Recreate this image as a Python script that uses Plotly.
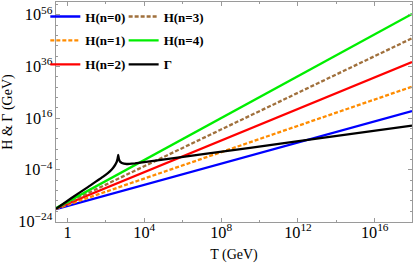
import numpy as np
import plotly.graph_objects as go

# ---- data (log10 values) ----
T_log10_H = [-0.60, 17.94]                 # end points of the straight H(T) lines
H_names = ["H(n=0)", "H(n=1)", "H(n=2)", "H(n=3)", "H(n=4)"]
H_n0_log10 = [-19.20, 18.74]
H_n1_log10 = [-19.10, 28.14]
H_n2_log10 = [-19.00, 37.70]
H_n3_log10 = [-18.95, 46.87]
H_n4_log10 = [-18.85, 56.26]

Gamma_T_log10 = [-0.60, 0.21, 1.08, 1.95, 2.38, 2.56, 2.61, 2.64, 2.67, 2.73,
                 2.83, 3.08, 3.51, 7.16, 11.84, 17.94]
Gamma_log10 = [-19.09, -14.90, -10.60, -6.20, -3.20, -1.00, 0.36, 1.72, 0.36,
               -0.80, -1.38, -1.76, -1.49, 2.11, 6.86, 13.05]

colors = ["#0000ff", "#ff8c00", "#ff0000", "#a0703c", "#00ee00"]
dashes = ["solid", "4px,2px", "solid", "4px,2px", "solid"]
legend_of = ["legend", "legend", "legend", "legend2", "legend2"]

FONT = "Liberation Serif"

fig = go.Figure()
H_all = [H_n0_log10, H_n1_log10, H_n2_log10, H_n3_log10, H_n4_log10]
T_H = np.power(10.0, T_log10_H)
for i, (name, hv) in enumerate(zip(H_names, H_all)):
    fig.add_trace(go.Scatter(
        x=T_H, y=np.power(10.0, hv), mode="lines", name=name,
        line=dict(color=colors[i], width=2.3, dash=dashes[i]),
        legend=legend_of[i], legendgroup=name,
    ))

fig.add_trace(go.Scatter(
    x=np.power(10.0, Gamma_T_log10), y=np.power(10.0, Gamma_log10),
    mode="lines", name="Γ", line=dict(color="black", width=2.3, shape="spline", smoothing=0.3),
    legend="legend2", legendgroup="Gamma",
))

leg_common = dict(
    font=dict(family=FONT, size=13, color="black", weight="bold"),
    bgcolor="rgba(0,0,0,0)", borderwidth=0, tracegroupgap=4,
    traceorder="grouped", xanchor="left", yanchor="top",
)

axis_common = dict(
    type="log", showgrid=False, zeroline=False, automargin=False,
    showline=True, linecolor="#9a9a9a", linewidth=1, mirror="ticks",
    ticks="inside", ticklen=4, tickcolor="#9a9a9a",
    exponentformat="power", showexponent="all",
    tickfont=dict(family=FONT, size=13, color="black"),
)

fig.update_layout(
    width=415, height=263,
    margin=dict(l=56, r=3, t=2, b=41),
    paper_bgcolor="white", plot_bgcolor="white",
    legend=dict(x=-0.03, y=1.002, **leg_common),
    legend2=dict(x=0.19, y=1.002, **leg_common),
    xaxis=dict(range=[-0.60, 17.94], tick0=0, dtick=4, ticklabelstandoff=-4,
               minor=dict(dtick=2, ticklen=2, tickcolor="#9a9a9a", ticks="inside"),
               title=dict(text="T (GeV)", font=dict(family=FONT, size=14, color="black"), standoff=16),
               **axis_common),
    yaxis=dict(range=[-24.2, 60.9], tick0=-24, dtick=20,
               minor=dict(dtick=4, ticklen=2, tickcolor="#9a9a9a", ticks="inside"),
               title=dict(text="H & Γ (GeV)", font=dict(family=FONT, size=14, color="black"), standoff=5),
               **axis_common),
)

fig.write_html("out.html", config={"displayModeBar": False},
               post_script="document.body.style.margin='0';")
